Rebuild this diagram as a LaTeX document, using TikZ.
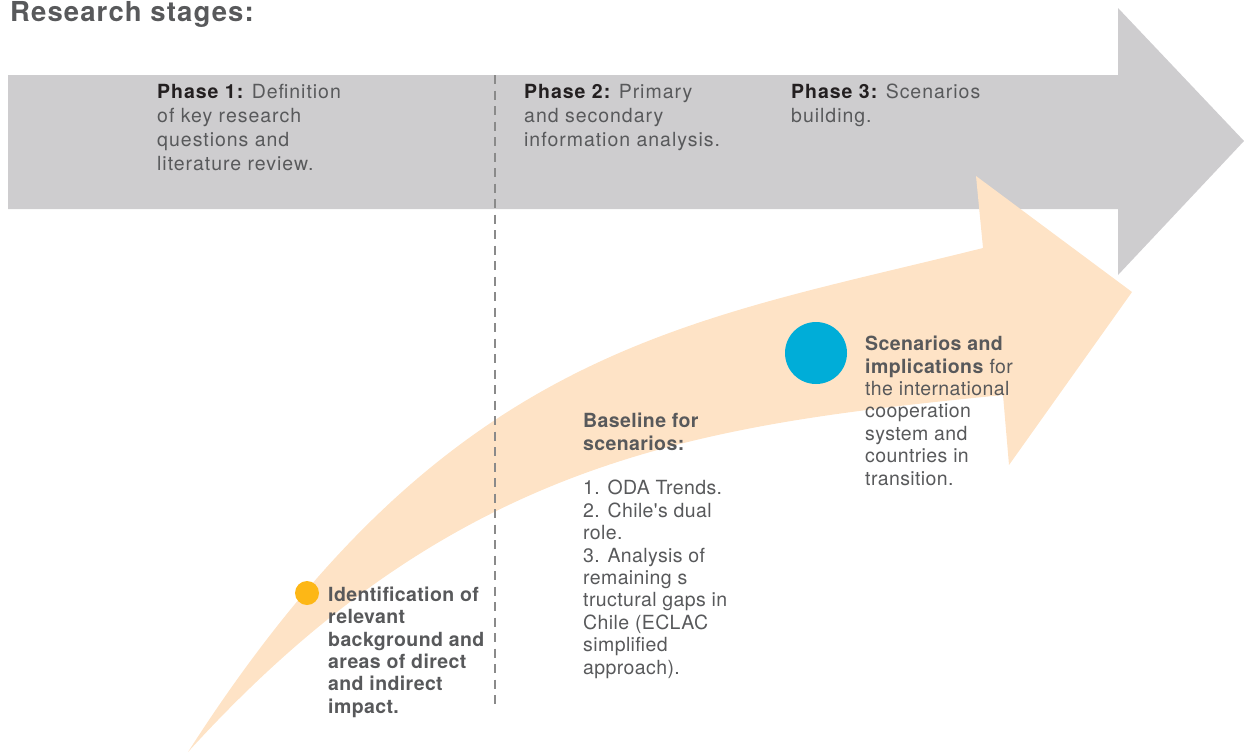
\documentclass[tikz,border=0pt]{standalone}
\usepackage{fontspec}
\setmainfont{TeX Gyre Heros}
\newfontfamily\titlefam{TeX Gyre Heros}[LetterSpace=4]
\newfontfamily\phasefam{TeX Gyre Heros}[LetterSpace=5]
\newfontfamily\stagefam{TeX Gyre Heros}[LetterSpace=2]
\definecolor{arrowgray}{HTML}{CECDCF}
\definecolor{bandorange}{HTML}{FEE3C6}
\definecolor{dotyellow}{HTML}{FDB716}
\definecolor{dotblue}{HTML}{00ADD8}
\definecolor{textgray}{HTML}{58595B}
\definecolor{phaseblack}{HTML}{231F20}
\definecolor{dashgray}{HTML}{8A8A8A}
\begin{document}
\begin{tikzpicture}[x=1pt,y=-1pt, line join=round,
	phasetext/.style={anchor=north west, inner sep=0pt, align=left, text=textgray, font=\phasefam\fontsize{19.5}{24}\selectfont},
	stagetext/.style={anchor=north west, inner sep=0pt, align=left, text=textgray, font=\stagefam\fontsize{19.5}{22.4}\selectfont},
	dot/.style={circle, inner sep=0pt}]
	\useasboundingbox (0,0) rectangle (1244,753);
	\def\bodyT{75} \def\bodyB{209} \def\headX{1118} % grey arrow
	\def\divX{495} % phase divider
	% grey arrow of the phases
	\fill[arrowgray] (8,\bodyT)--(\headX,\bodyT)--(\headX,8)--(1244,141)--(\headX,275)--(\headX,\bodyB)--(8,\bodyB)--cycle;
	% orange curved arrow
	\fill[bandorange] (188,752) .. controls (448,346) and (683,323) .. (983,248) --(976,176)--(1132,292)--(1009,465)--(1003,395)
		.. controls (703,425) and (458,455) .. (188,752) --cycle;
	% divider
	\coordinate (divtop) at (\divX,\bodyT);
	\coordinate (divbot) at (\divX,708);
	\draw[dashgray, line width=1.2pt, dash pattern=on 9pt off 6.5pt] (divtop)--(divbot);
	\node[anchor=north west, inner sep=0pt, text=textgray, font=\titlefam\fontsize{27.5}{32}\selectfont\bfseries] (title) at (10,1) {Research stages:};
	\node[phasetext] (phase1) at (157,83.8) {\textcolor{phaseblack}{\bfseries Phase 1:} Definition\\of key research\\questions and\\literature review.};
	\node[phasetext] (phase2) at (524,83.8) {\textcolor{phaseblack}{\bfseries Phase 2:} Primary\\and secondary\\information analysis.};
	\node[phasetext] (phase3) at (791,83.8) {\textcolor{phaseblack}{\bfseries Phase 3:} Scenarios\\building.};
	\node[dot, fill=dotyellow, minimum size=24pt] (idot) at (307,593) {};
	\node[dot, fill=dotblue, minimum size=62pt] (sdot) at (816,353) {};
	\node[stagetext, font=\stagefam\fontsize{19.5}{22.4}\selectfont\bfseries] (ident) at (328,586.5) {Identification of\\relevant\\background and\\areas of direct\\and indirect\\impact.};
	\node[stagetext] (baseline) at (583,413) {\textbf{Baseline for}\\\textbf{scenarios:}\\[22.4pt]1. ODA Trends.\\2. Chile's dual\\role.\\3. Analysis of\\remaining s\\tructural gaps in\\Chile (ECLAC\\simplified\\approach).};
	\node[stagetext] (scen) at (865,336) {\textbf{Scenarios and}\\\textbf{implications} for\\the international\\cooperation\\system and\\countries in\\transition.};
\end{tikzpicture}
\end{document}
